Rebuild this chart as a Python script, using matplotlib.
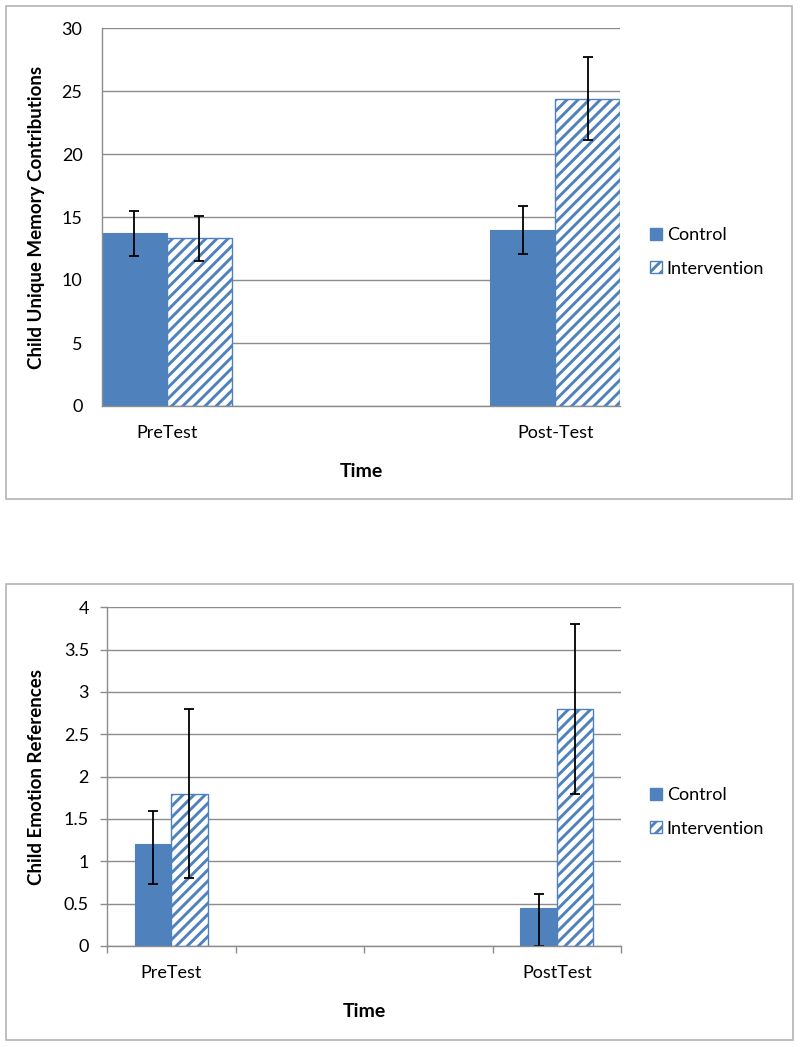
import numpy as np
from matplotlib import pyplot as plt
from matplotlib.patches import Rectangle, Patch

plt.rcParams['font.family'] = ['Lato', 'DejaVu Sans']
plt.rcParams['hatch.linewidth'] = 2.1

# Data
groups = ['Control', 'Intervention']

memory_times = ['PreTest', 'Post-Test']
memory_control = [13.7, 14.0]
memory_control_err = [1.8, 1.9]
memory_interv = [13.3, 24.4]
memory_interv_err = [1.8, 3.3]

emotion_times = ['PreTest', 'PostTest']
emotion_control = [1.2, 0.45]
emotion_control_lo = [0.47, 0.45]
emotion_control_hi = [0.40, 0.17]
emotion_interv = [1.8, 2.8]
emotion_interv_err = [1.0, 1.0]

blue = '#4f81bd'
grid_gray = '#8c8c8c'
frame_gray = '#b3b3b3'

W, H = 800, 1047
fig = plt.figure(figsize=(8, 10.47), dpi=100)

# category slots: two empty ones sit between the time points
slots = np.array([0, 3])


def frame(x0, y0, x1, y1):
    fig.patches.append(Rectangle((x0 / W, 1 - y1 / H), (x1 - x0) / W, (y1 - y0) / H,
                                 transform=fig.transFigure, fill=False,
                                 edgecolor=frame_gray, lw=1.2))


def axes_px(x0, y0, x1, y1):
    return fig.add_axes([x0 / W, 1 - y1 / H, (x1 - x0) / W, (y1 - y0) / H])


def style(ax):
    ax.set_axisbelow(True)
    ax.yaxis.grid(True, color=grid_gray, lw=1.0)
    for s in ['top', 'right']:
        ax.spines[s].set_visible(False)
    for s in ['left', 'bottom']:
        ax.spines[s].set_color(grid_gray)
        ax.spines[s].set_linewidth(1.0)
    ax.set_xlim(-0.5, 3.5)


def legend(ax, y):
    handles = [Patch(facecolor=blue, edgecolor=blue),
               Patch(facecolor='white', edgecolor=blue, hatch='///')]
    fig.legend(handles, groups, loc='center left', bbox_to_anchor=(650 / W, 1 - y / H),
               frameon=False, fontsize=13, handlelength=0.68, handleheight=0.68,
               handletextpad=0.25, labelspacing=0.95, borderpad=0, borderaxespad=0)


err_kw = dict(fmt='none', ecolor='black', elinewidth=1.3, capsize=3.5, capthick=1.3)

# ---- top chart ----
frame(6, 6, 792, 499)
ax1 = axes_px(102, 28, 620, 406)
style(ax1)
w1 = 0.5
ax1.bar(slots - w1 / 2, memory_control, w1, color=blue, edgecolor=blue, lw=0.8)
ax1.bar(slots + w1 / 2, memory_interv, w1, color='white', edgecolor=blue, hatch='///', lw=1.0)
ax1.errorbar(slots - w1 / 2, memory_control, yerr=memory_control_err, **err_kw)
ax1.errorbar(slots + w1 / 2, memory_interv, yerr=memory_interv_err, **err_kw)
ax1.set_ylim(0, 30)
ax1.set_yticks(np.arange(0, 31, 5))
ax1.set_xticks(slots, memory_times)
ax1.tick_params(axis='both', length=0, labelsize=13)
ax1.tick_params(axis='y', pad=14)
ax1.tick_params(axis='x', pad=14)
ax1.set_ylabel('Child Unique Memory Contributions', fontsize=13.5, fontweight='bold')
ax1.yaxis.set_label_coords(-0.11, 0.5)
ax1.set_xlabel('Time', fontsize=14, fontweight='bold')
ax1.xaxis.set_label_coords(0.5, -0.151)
legend(ax1, 252)

# ---- bottom chart ----
frame(6, 584, 793, 1040)
ax2 = axes_px(107, 607.3, 621, 946)
style(ax2)
w2 = 0.284
ax2.bar(slots - w2 / 2, emotion_control, w2, color=blue, edgecolor=blue, lw=0.8)
ax2.bar(slots + w2 / 2, emotion_interv, w2, color='white', edgecolor=blue, hatch='///', lw=1.0)
ax2.errorbar(slots - w2 / 2, emotion_control, yerr=[emotion_control_lo, emotion_control_hi], **err_kw)
ax2.errorbar(slots + w2 / 2, emotion_interv, yerr=emotion_interv_err, **err_kw)
ax2.set_ylim(0, 4)
ax2.set_yticks(np.arange(0, 4.01, 0.5))
ax2.set_yticklabels(['0', '0.5', '1', '1.5', '2', '2.5', '3', '3.5', '4'])
ax2.set_xticks(slots, emotion_times)
ax2.set_xticks(np.arange(-0.5, 3.6, 1), minor=True)
ax2.tick_params(axis='x', which='major', length=0, pad=14, labelsize=13)
ax2.tick_params(axis='x', which='minor', length=5, color=grid_gray, width=1.0)
ax2.tick_params(axis='y', length=5, color=grid_gray, width=1.0, pad=8, labelsize=13)
ax2.set_ylabel('Child Emotion References', fontsize=13.5, fontweight='bold')
ax2.yaxis.set_label_coords(-0.12, 0.5)
ax2.set_xlabel('Time', fontsize=14, fontweight='bold')
ax2.xaxis.set_label_coords(0.5, -0.168)
legend(ax2, 812)

fig.savefig('out.png', dpi=100)
